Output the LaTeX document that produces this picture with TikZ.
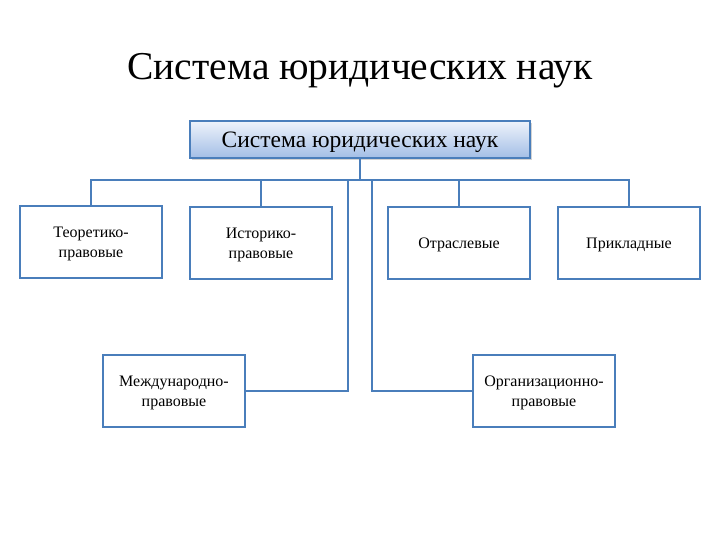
\documentclass[tikz,border=0pt]{standalone}
\usepackage{fontspec}
\setmainfont{Liberation Serif}
\usetikzlibrary{shadows}

\definecolor{linkblue}{HTML}{4A7EBB}
\definecolor{topfill}{HTML}{EEF3FB}
\definecolor{botfill}{HTML}{A3BEE6}

\tikzset{
  link/.style={draw=linkblue, line width=2.5pt},
  branchbox/.style={draw=linkblue, line width=2.5pt, fill=white, minimum width=142pt, minimum height=72pt, align=center, inner sep=2pt, text depth=0pt, font=\fontsize{16}{20}\selectfont},
  headbox/.style={draw=linkblue, line width=2pt, top color=topfill, bottom color=botfill, minimum width=340pt, minimum height=37pt, text depth=0pt, font=\fontsize{23.5}{26}\selectfont, drop shadow={shadow xshift=1.5pt, shadow yshift=-2pt, opacity=0.35}}
}

\begin{document}
\begin{tikzpicture}[x=1pt, y=-1pt]
\useasboundingbox (0,0) rectangle (720,540);

% Title
\node[font=\fontsize{39.5}{44}\selectfont] (title) at (360,71) {Система юридических наук};

% Head box
\node[headbox] (sys) at (360,139.5) {Система юридических наук};

% Upper row
\node[branchbox] (teor) at (91,242) {Теоретико-\\правовые};
\node[branchbox] (ist) at (261,243) {Историко-\\правовые};
\node[branchbox] (otr) at (459,243) {Отраслевые};
\node[branchbox] (prikl) at (629,243) {Прикладные};

% Lower row
\node[branchbox] (mezh) at (174,391) {Международно-\\правовые};
\node[branchbox] (org) at (544,391) {Организационно-\\правовые};

% Bus
\coordinate (bus) at (360,180);
\coordinate (lbranch) at (348,180);
\coordinate (rbranch) at (372,180);

\draw[link] (sys.south) -- (bus);
\draw[link] (teor.north) -- (teor.north |- bus) -- (prikl.north |- bus) -- (prikl.north);
\draw[link] (ist.north) -- (ist.north |- bus);
\draw[link] (otr.north) -- (otr.north |- bus);
\draw[link] (lbranch) |- (mezh.east);
\draw[link] (rbranch) |- (org.west);
\end{tikzpicture}
\end{document}
